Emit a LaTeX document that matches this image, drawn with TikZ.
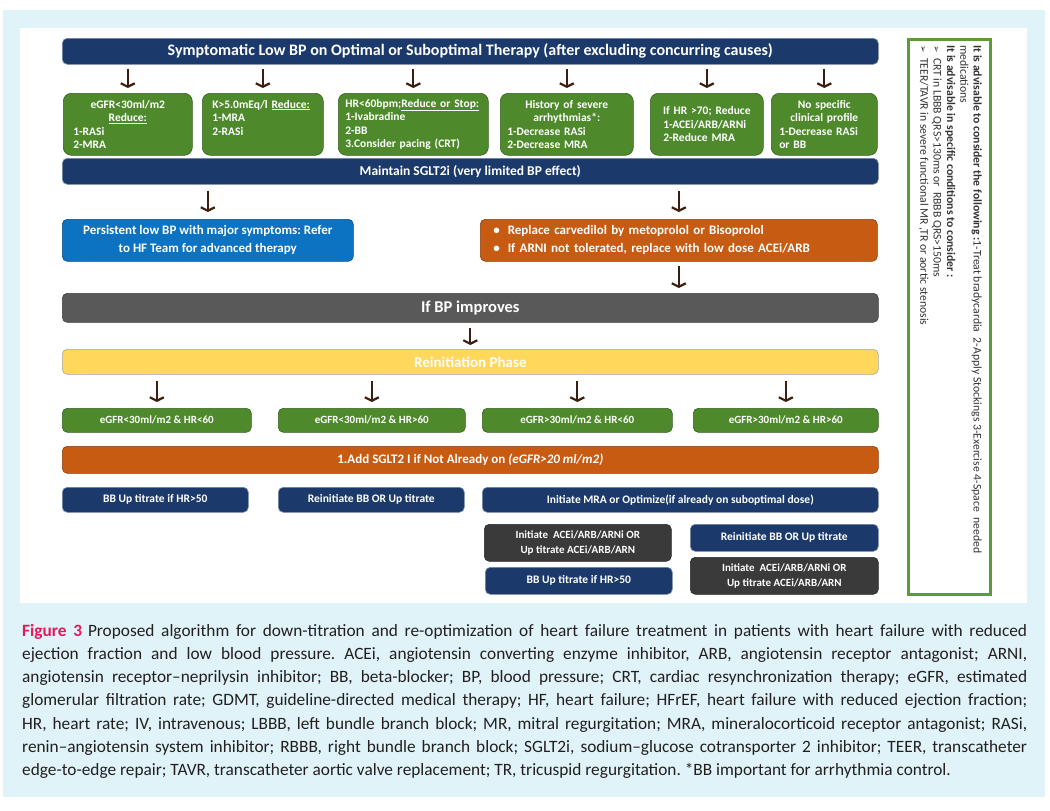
\documentclass[tikz,border=0pt]{standalone}
\usepackage{fontspec}
\setmainfont{Carlito}
\newfontfamily\dejavu{DejaVu Sans}
\usetikzlibrary{arrows.meta}
\setlength\parindent{0pt}
\frenchspacing
\definecolor{navy}{HTML}{1B3A6B}
\definecolor{grn}{HTML}{4E8A2C}
\definecolor{blu}{HTML}{0B73C2}
\definecolor{org}{HTML}{C75B12}
\definecolor{gbar}{HTML}{595959}
\definecolor{ylw}{HTML}{FFD75A}
\definecolor{dgray}{HTML}{3A3A3A}
\definecolor{arrc}{HTML}{3B1F0E}
\definecolor{cyanbg}{HTML}{DFF3F8}
\definecolor{sidegrn}{HTML}{5C9B3A}
\definecolor{figred}{HTML}{E2195B}
\definecolor{captxt}{HTML}{231F20}
\newcommand{\fs}[2]{\fontsize{#1}{#2}\selectfont}
\newcommand{\cl}[1]{\makebox[\hsize]{#1}}
\begin{document}
\begin{tikzpicture}[x=1pt,y=-1pt,
  boxbase/.style={anchor=north west, inner sep=0pt, text=white, line width=0.6pt},
  bar/.style={boxbase, rounded corners=5pt, align=center},
  navybox/.style={bar, fill=navy, draw=navy!60!white},
  gbox/.style={boxbase, rounded corners=8pt, fill=grn, draw=grn!70!black, align=left, font=\bfseries\fs{11.5}{13.5}},
  sgbox/.style={boxbase, rounded corners=5pt, fill=grn, draw=grn!70!black, align=center, font=\bfseries\fs{11}{13}, minimum height=24},
  nsmall/.style={navybox, font=\bfseries\fs{11.5}{14}, minimum height=25},
  dgbox/.style={bar, fill=dgray, draw=dgray!70!black, font=\bfseries\fs{11}{14.5}},
  arr/.style={draw=arrc, line width=2.2pt, -{Straight Barb[length=3.5pt,width=14pt]}}
]
\useasboundingbox (0,0) rectangle (1050,811);
\fill[white] (0,0) rectangle (1050,811);
\fill[cyanbg] (3,10) rectangle (1045,797);
\fill[white] (20,28) rectangle (1027,603);

% title
\node[navybox, minimum width=816, minimum height=26, font=\bfseries\fs{16}{18}] (title) at (62,38)
  {Symptomatic Low BP on Optimal or Suboptimal Therapy (after excluding concurring causes)};

% row 1
\node[gbox, minimum width=129, minimum height=62, text width=109, inner xsep=10pt] (g1) at (63,93)
  {\cl{eGFR<30ml/m2}\\ \cl{\underline{Reduce:}}\\ 1-RASi\\ 2-MRA};
\node[gbox, minimum width=121, minimum height=62, text width=101, inner xsep=10pt] (g2) at (202,93)
  {K>5.0mEq/l \underline{Reduce:}\\ 1-MRA\\ 2-RASi\\ \mbox{}};
\node[gbox, minimum width=150, minimum height=62, text width=136, inner xsep=7pt] (g3) at (338,93)
  {HR<60bpm;\underline{Reduce or Stop:}\\ 1-Ivabradine\\ 2-BB\\ 3.Consider pacing (CRT)};
\node[gbox, minimum width=133, minimum height=62, text width=119, inner xsep=7pt] (g4) at (500,93)
  {\cl{History of severe}\\ \cl{arrhythmias*:}\\ 1-Decrease RASi\\ 2-Decrease MRA};
\node[gbox, minimum width=113, minimum height=62, text width=87, inner xsep=13pt] (g5) at (650,93)
  {\cl{If HR >70; Reduce}\\ 1-ACEi/ARB/ARNi\\ 2-Reduce MRA};
\node[gbox, minimum width=106, minimum height=62, text width=90, inner xsep=8pt] (g6) at (771,93)
  {\cl{No specific}\\ \cl{clinical profile}\\ 1-Decrease RASi\\ or BB};

\node[navybox, minimum width=816, minimum height=26, font=\bfseries\fs{13.5}{15}] (maint) at (62,158)
  {Maintain SGLT2i (very limited BP effect)};

\node[bar, fill=blu, draw=blu!70!black, minimum width=291, minimum height=42, font=\bfseries\fs{13}{18}] (blue) at (62,219)
  {Persistent low BP with major symptoms: Refer\\ to HF Team for advanced therapy};
\node[bar, fill=org, draw=org!70!black, minimum width=397, minimum height=42, text width=371, inner xsep=13pt, align=left, font=\bfseries\fs{13}{18}] (orng) at (480,219)
  {\textbullet\hspace{8pt}Replace carvedilol by metoprolol or Bisoprolol\\ \textbullet\hspace{8pt}If ARNI not tolerated, replace with low dose ACEi/ARB};

\node[bar, fill=gbar, draw=gbar!70!black, minimum width=816, minimum height=29, font=\bfseries\fs{16.5}{18}] (gray) at (62,293)
  {If BP improves};
\node[bar, fill=ylw, draw=gray!70, minimum width=816, minimum height=25, font=\bfseries\fs{15}{17}] (ylwbar) at (62,349)
  {Reinitiation Phase};

% row 2
\node[sgbox, minimum width=189] (h1) at (62,408) {eGFR<30ml/m2 \& HR<60};
\node[sgbox, minimum width=187] (h2) at (278,408) {eGFR<30ml/m2 \& HR>60};
\node[sgbox, minimum width=190] (h3) at (482,408) {eGFR>30ml/m2 \& HR<60};
\node[sgbox, minimum width=185] (h4) at (693,408) {eGFR>30ml/m2 \& HR>60};

\node[bar, fill=org, draw=org!70!black, minimum width=816, minimum height=27, font=\bfseries\fs{13}{15}] (sglt) at (62,446)
  {1.Add SGLT2 I if Not Already on \textit{(eGFR>20 ml/m2)}};

\node[nsmall, minimum width=186] (n1) at (62,487) {BB Up titrate if HR>50};
\node[nsmall, minimum width=186] (n2) at (278,487) {Reinitiate BB OR Up titrate};
\node[nsmall, minimum width=396] (n3) at (482,487) {Initiate MRA or Optimize(if already on suboptimal dose)};

\node[dgbox, minimum width=187, minimum height=37] (d1) at (484,524) {Initiate\ \ ACEi/ARB/ARNi OR\\ Up titrate ACEi/ARB/ARN};
\node[nsmall, minimum width=188, minimum height=27] (n4) at (690,524) {Reinitiate BB OR Up titrate};
\node[nsmall, minimum width=187, minimum height=27] (n5) at (485,567) {BB Up titrate if HR>50};
\node[dgbox, minimum width=188, minimum height=37] (d2) at (690,557) {Initiate\ \ ACEi/ARB/ARNi OR\\ Up titrate ACEi/ARB/ARN};

% arrows
\foreach \n in {g1,g2,g3,g4,g5,g6}
  \draw[arr, shorten <=4pt, shorten >=5pt] (title.south -| \n.north) -- (\n.north);
\draw[arr, shorten <=6pt, shorten >=7pt] (maint.south -| blue.north) -- (blue.north);
\draw[arr, shorten <=6pt, shorten >=7pt] (maint.south -| orng.north) -- (orng.north);
\draw[arr, shorten <=4pt, shorten >=5pt] (orng.south) -- (orng.south |- gray.north);
\draw[arr, shorten <=5pt, shorten >=4pt] (gray.south) -- (ylwbar.north);
\foreach \n in {h1,h2,h3,h4}
  \draw[arr, shorten <=6pt, shorten >=6pt] (ylwbar.south -| \n.north) -- (\n.north);

% side panel
\node[anchor=north west, draw=sidegrn, line width=2.5pt, minimum width=82, minimum height=555, inner sep=0pt] (side) at (907,38) {};
\node[rotate=-90, anchor=north west, align=left, inner sep=0pt, text=black!80, font=\fs{11.7}{13.3}] (sidetxt) at (982,45)
  {{\bfseries It is advisable to consider the following :}1-Treat bradycardia\ \ 2-Apply Stockings 3-Exercise 4-Space\ \ needed\\
   medications\\
   {\bfseries It is advisable in specific conditions to consider :}\\
   {\dejavu\fs{9}{13.3}➢}\ \ CRT in LBBB QRS>130ms or\ \ RBBB QRS>150ms\\
   {\dejavu\fs{9}{13.3}➢}\ \ TEER/TAVR in severe functional MR ,TR or aortic stenosis};

% caption
\node[anchor=north west, inner sep=0pt, text width=1005, align=justify, text=captxt, font=\fs{17.3}{23.2}] (caption) at (22,624)
  {\textcolor{figred}{\bfseries Figure 3}\hspace{6pt}Proposed algorithm for down-titration and re-optimization of heart failure treatment in patients with heart failure with reduced\linebreak
  ejection fraction and low blood pressure. ACEi, angiotensin converting enzyme inhibitor, ARB, angiotensin receptor antagonist; ARNI,\linebreak
  angiotensin receptor–neprilysin inhibitor; BB, beta-blocker; BP, blood pressure; CRT, cardiac resynchronization therapy; eGFR, estimated\linebreak
  glomerular filtration rate; GDMT, guideline-directed medical therapy; HF, heart failure; HFrEF, heart failure with reduced ejection fraction;\linebreak
  HR, heart rate; IV, intravenous; LBBB, left bundle branch block; MR, mitral regurgitation; MRA, mineralocorticoid receptor antagonist; RASi,\linebreak
  renin–angiotensin system inhibitor; RBBB, right bundle branch block; SGLT2i, sodium–glucose cotransporter 2 inhibitor; TEER, transcatheter\linebreak
  edge-to-edge repair; TAVR, transcatheter aortic valve replacement; TR, tricuspid regurgitation. *BB important for arrhythmia control.};
\end{tikzpicture}
\end{document}
